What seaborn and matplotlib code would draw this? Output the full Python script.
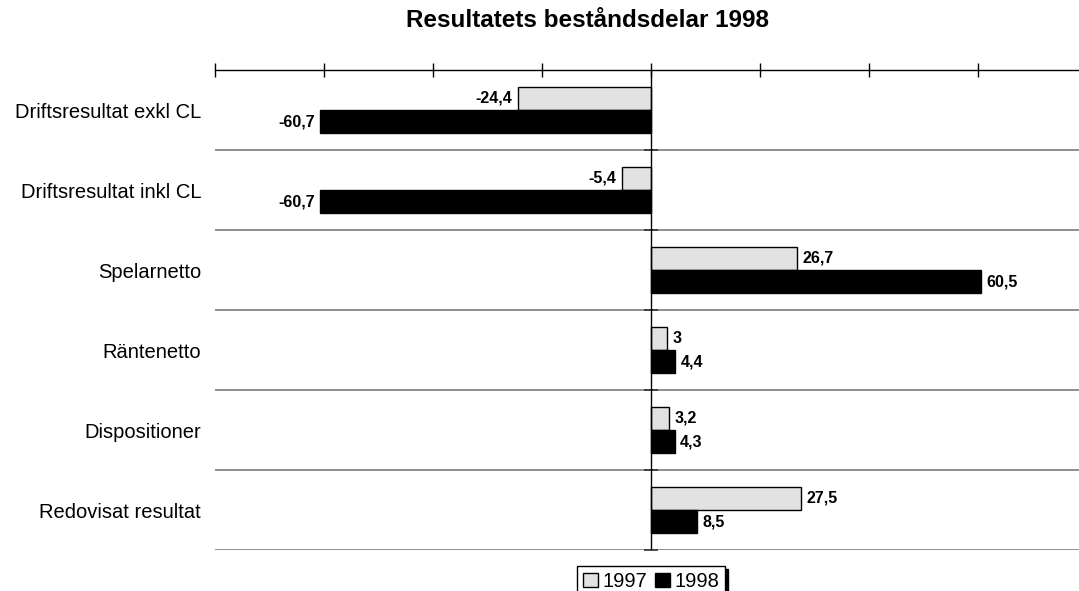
import matplotlib
matplotlib.use("Agg")
import matplotlib.pyplot as plt
import seaborn as sns
import pandas as pd
from matplotlib.patches import Patch

categories = ["Driftsresultat exkl CL", "Driftsresultat inkl CL", "Spelarnetto",
              "Räntenetto", "Dispositioner", "Redovisat resultat"]
values_1997 = [-24.4, -5.4, 26.7, 3.0, 3.2, 27.5]
values_1998 = [-60.7, -60.7, 60.5, 4.4, 4.3, 8.5]
labels_1997 = ["-24,4", "-5,4", "26,7", "3", "3,2", "27,5"]
labels_1998 = ["-60,7", "-60,7", "60,5", "4,4", "4,3", "8,5"]
years = ["1997", "1998"]
x_ticks = [-80, -60, -40, -20, 0, 20, 40, 60]

sns.set_theme(style="white")
plt.rcParams['font.family'] = ['Liberation Sans', 'DejaVu Sans']
plt.rcParams['text.color'] = 'black'
plt.rcParams['axes.labelcolor'] = 'black'
plt.rcParams['xtick.color'] = 'black'
plt.rcParams['ytick.color'] = 'black'

df = pd.DataFrame({
    "Kategori": categories * 2,
    "Värde": values_1997 + values_1998,
    "År": [years[0]] * len(categories) + [years[1]] * len(categories),
})

fig = plt.figure(figsize=(10.79, 5.91), dpi=100)
ax = fig.add_axes([215 / 1079, 1 - 550 / 591, 1 - 215 / 1079, (550 - 70) / 591])

sns.barplot(data=df, y="Kategori", x="Värde", hue="År", orient="h",
            order=categories, hue_order=years,
            palette=["#e2e2e2", "#000000"], edgecolor="black", linewidth=1.0,
            width=0.58, dodge=True, ax=ax, legend=False)

ax.set_xlim(-80, 78.5)
ax.set_ylim(len(categories) - 0.5, -0.5)

for cont, labs in zip(ax.containers, [labels_1997, labels_1998]):
    ax.bar_label(cont, labels=labs, padding=4, fontsize=11.5, fontweight="bold", color="black")

for i in range(len(categories)):
    ax.axhline(i + 0.5, color="#7a7a7a", linewidth=1.2, zorder=0)
ax.axvline(0, color="black", linewidth=1.0, zorder=3)

ax.xaxis.tick_top()
ax.set_xticks(x_ticks)
ax.set_xticklabels([])
ax.tick_params(axis="x", direction="inout", length=10, width=1.0, color="black", top=True, bottom=False)
ax.tick_params(axis="y", which="major", length=0, labelsize=14.5, pad=10, labelcolor="black",
               left=True, right=False)
ax.set_xlabel("")
ax.set_ylabel("")

# small cross ticks on the zero line at category boundaries
ax.spines["right"].set_position(("data", 0))
ax.set_yticks([i + 0.5 for i in range(len(categories))], minor=True)
ax.tick_params(axis="y", which="minor", left=False, right=True, direction="inout",
               length=10, width=1.2, color="#333333")

for s in ["left", "right", "bottom"]:
    ax.spines[s].set_visible(False)
ax.spines["top"].set_color("black")
ax.spines["top"].set_linewidth(1.0)

fig.suptitle("Resultatets beståndsdelar 1998", x=587 / 1079, y=1 - 9 / 591, va="top",
             fontsize=17.5, fontweight="bold", color="black")

handles = [Patch(facecolor="#e2e2e2", edgecolor="black", linewidth=1.0),
           Patch(facecolor="black", edgecolor="black", linewidth=1.0)]
leg = fig.legend(handles, years, loc="upper center", bbox_to_anchor=(651 / 1079, 1 - 566 / 591),
                 ncol=2, fontsize=14.5, frameon=True, fancybox=False,
                 shadow={"color": "black", "alpha": 1.0},
                 handlelength=0.75, handleheight=0.75, handletextpad=0.2, columnspacing=0.4,
                 borderpad=0.3, borderaxespad=0)
leg.get_frame().set_edgecolor("black")
leg.get_frame().set_linewidth(1.0)
for t in leg.get_texts():
    t.set_color("black")

fig.savefig("out.png", dpi=100)
